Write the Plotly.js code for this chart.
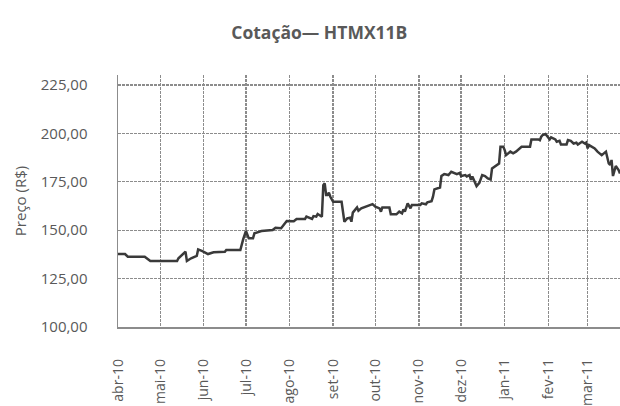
<!DOCTYPE html>
<html>
<head>
<meta charset="utf-8">
<script src="https://cdn.plot.ly/plotly-3.0.1.min.js"></script>
<style>
html,body{margin:0;padding:0;background:#fff;}
#chart{width:620px;height:406px;}
</style>
</head>
<body>
<div id="chart"></div>
<script>
// Series: dates and closing price (R$)
const dates = [
 '2010-04-01','2010-04-06','2010-04-08','2010-04-20','2010-04-24','2010-05-04','2010-05-13','2010-05-14',
 '2010-05-19','2010-05-20','2010-05-23','2010-05-27','2010-05-28','2010-05-31','2010-06-04','2010-06-08',
 '2010-06-16','2010-06-17','2010-06-27','2010-06-29','2010-07-01','2010-07-03','2010-07-06','2010-07-07',
 '2010-07-10','2010-07-12','2010-07-20','2010-07-22','2010-07-26','2010-07-30','2010-08-04','2010-08-06',
 '2010-08-12','2010-08-13','2010-08-17','2010-08-18','2010-08-20','2010-08-21','2010-08-24','2010-08-25',
 '2010-08-26','2010-08-27','2010-08-28','2010-08-29','2010-08-30','2010-09-01','2010-09-07','2010-09-09',
 '2010-09-11','2010-09-13','2010-09-14','2010-09-15','2010-09-18','2010-09-19','2010-09-21','2010-09-25',
 '2010-09-29','2010-10-01','2010-10-04','2010-10-05','2010-10-06','2010-10-11','2010-10-12','2010-10-16',
 '2010-10-18','2010-10-20','2010-10-21','2010-10-22','2010-10-23','2010-10-24','2010-10-26','2010-10-27',
 '2010-11-02','2010-11-03','2010-11-06','2010-11-07','2010-11-10','2010-11-11','2010-11-12','2010-11-16',
 '2010-11-17','2010-11-19','2010-11-22','2010-11-24','2010-11-28','2010-11-30','2010-12-01','2010-12-04',
 '2010-12-05','2010-12-07','2010-12-08','2010-12-09','2010-12-12','2010-12-14','2010-12-16','2010-12-18',
 '2010-12-20','2010-12-22','2010-12-23','2010-12-26','2010-12-28','2010-12-29','2010-12-31','2011-01-01',
 '2011-01-02','2011-01-05','2011-01-07','2011-01-09','2011-01-11','2011-01-13','2011-01-19','2011-01-20',
 '2011-01-25','2011-01-26','2011-01-27','2011-01-28','2011-01-30','2011-02-01','2011-02-02','2011-02-03',
 '2011-02-06','2011-02-07','2011-02-09','2011-02-10','2011-02-14','2011-02-15','2011-02-17','2011-02-19',
 '2011-02-21','2011-02-22','2011-02-25','2011-02-27','2011-02-28','2011-03-01','2011-03-02','2011-03-06',
 '2011-03-08','2011-03-11','2011-03-13','2011-03-14','2011-03-16','2011-03-17','2011-03-18','2011-03-19',
 '2011-03-21','2011-03-23','2011-03-24'
];
const prices = [
 137.7,137.7,136.3,136.3,134.1,134.1,134.1,135.5,
 138.9,134.1,135.5,136.7,140.1,139.2,137.7,138.6,
 138.9,139.8,139.8,145.3,149.6,145.8,145.8,148.4,
 149.0,149.6,150.1,151.3,151.0,154.8,154.6,155.8,
 155.8,157.0,155.8,157.3,157.0,158.4,157.0,173.3,
 174.2,168.2,168.2,169.4,167.3,164.7,164.7,154.4,
 156.1,156.5,154.4,159.1,161.8,160.1,161.3,162.2,
 163.5,162.2,161.3,159.6,161.8,161.8,158.2,158.2,
 159.6,158.7,160.8,159.6,161.3,163.9,161.3,163.0,
 163.0,163.9,163.4,164.4,165.0,167.3,171.1,172.1,
 178.0,179.0,178.5,180.2,179.0,179.6,178.0,178.5,
 177.8,178.5,176.0,177.8,172.8,174.5,178.5,178.0,
 176.8,176.2,181.9,183.7,184.5,193.1,193.1,191.4,
 188.8,190.6,189.7,190.6,191.8,193.1,193.1,196.9,
 196.9,196.5,198.3,199.2,199.7,198.0,196.9,198.0,
 196.9,195.7,196.2,194.3,194.3,196.6,196.2,194.8,
 195.2,194.3,195.7,194.8,195.3,192.3,194.0,192.3,
 190.6,188.8,189.7,190.6,184.5,183.7,186.3,178.0,
 183.2,181.1,179.3
];
// Axis ticks
const monthTicks = ['2010-04-01','2010-05-01','2010-06-01','2010-07-01','2010-08-01','2010-09-01',
 '2010-10-01','2010-11-01','2010-12-01','2011-01-01','2011-02-01','2011-03-01'];
const monthLabels = ['abr-10','mai-10','jun-10','jul-10','ago-10','set-10','out-10','nov-10','dez-10','jan-11','fev-11','mar-11'];
const yTicks = [100,125,150,175,200,225];

const fontFam = 'Open Sans, Lato, sans-serif';
const textColor = '#595959';

Plotly.newPlot('chart', [{
  x: dates, y: prices, type: 'scatter', mode: 'lines',
  line: {color: '#3a3a3a', width: 2.5},
  hoverinfo: 'x+y', showlegend: false
}], {
  width: 620, height: 406,
  margin: {l: 118, r: 0, t: 75, b: 79, pad: 0},
  paper_bgcolor: '#fff', plot_bgcolor: '#fff',
  separators: ',.',
  font: {family: fontFam, color: textColor, size: 15},
  title: {text: '<b>Cotação— HTMX11B</b>', x: 0.515, xref: 'container', xanchor: 'center',
          y: 0.918, yref: 'container', yanchor: 'middle',
          font: {family: fontFam, size: 17.5, color: textColor}},
  xaxis: {
    type: 'date', range: ['2010-04-01', '2011-03-24'],
    tickmode: 'array', tickvals: monthTicks, ticktext: monthLabels,
    tickangle: -90, ticks: '', ticklabelstandoff: 25,
    tickfont: {family: fontFam, size: 14, color: textColor},
    showgrid: true, gridcolor: '#8c8c8c', gridwidth: 1.3, griddash: '3px,1px',
    showline: true, linecolor: '#8c8c8c', linewidth: 1.5, zeroline: false
  },
  yaxis: {
    range: [100, 230.2], tickmode: 'array', tickvals: yTicks,
    tickformat: '.2f', ticks: '', ticklabelstandoff: 26,
    tickfont: {family: fontFam, size: 15, color: textColor},
    title: {text: 'Preço (R$)', standoff: 10, font: {family: fontFam, size: 15, color: textColor}},
    showgrid: true, gridcolor: '#8c8c8c', gridwidth: 1.3, griddash: '3px,1px',
    showline: true, linecolor: '#8c8c8c', linewidth: 1.5, zeroline: false
  }
}, {displayModeBar: false, staticPlot: true});
</script>
</body>
</html>
